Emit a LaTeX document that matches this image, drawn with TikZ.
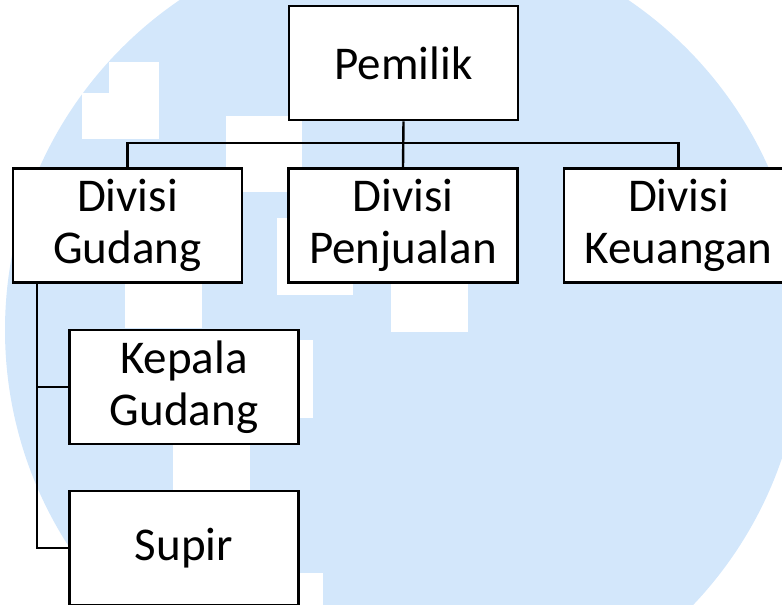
\documentclass[tikz,border=0pt]{standalone}
\usepackage{fontspec}
\setmainfont{Carlito}
\definecolor{wmblue}{RGB}{211,231,251}
\tikzset{
  unit/.style={draw=black, line width=1.4pt, fill=white, minimum width=114.5pt,
    minimum height=57pt, inner sep=0pt, align=center,
    font=\fontsize{23.5}{26}\selectfont},
  link/.style={line width=1.2pt},
}
\begin{document}
\begin{tikzpicture}[x=0.5pt,y=-0.5pt]
    \useasboundingbox (0,0) rectangle (782,605);
    \clip (0,0) rectangle (782,605);
    % watermark
    \fill[wmblue] (404,330) circle (199.5pt);
    \fill[white] (109,62) rectangle (159,139);
    \fill[white] (82,93) rectangle (159,139);
    \fill[white] (226,116) rectangle (302,192);
    \fill[white] (277,218) rectangle (353,295);
    \fill[white] (391,250) rectangle (468,332);
    \fill[white] (125,270) rectangle (202,328);
    \fill[white] (236,340) rectangle (313,418);
    \fill[white] (173,430) rectangle (250,490);
    \fill[white] (246,573) rectangle (323,605);
    % boxes
    \node[unit] (owner) at (403.5,63) {Pemilik};
    \node[unit] (gudang) at (127.5,225.5) {Divisi\\Gudang};
    \node[unit] (jual) at (403,225.5) {Divisi\\Penjualan};
    \node[unit] (uang) at (678.5,225.5) {Divisi\\Keuangan};
    \node[unit] (kepala) at (184,387) {Kepala\\Gudang};
    \node[unit] (supir) at (184,548) {Supir};
    % lines
    \coordinate (spine) at (37,0);
    \draw[link] (owner.south) -- (jual.north);
    \draw[link] (gudang.north) -- ++(0,-24) -| (uang.north);
    \draw[link] (gudang.south -| spine) |- (supir.west);
    \draw[link] (kepala.west) -- (kepala.west -| spine);
\end{tikzpicture}
\end{document}
